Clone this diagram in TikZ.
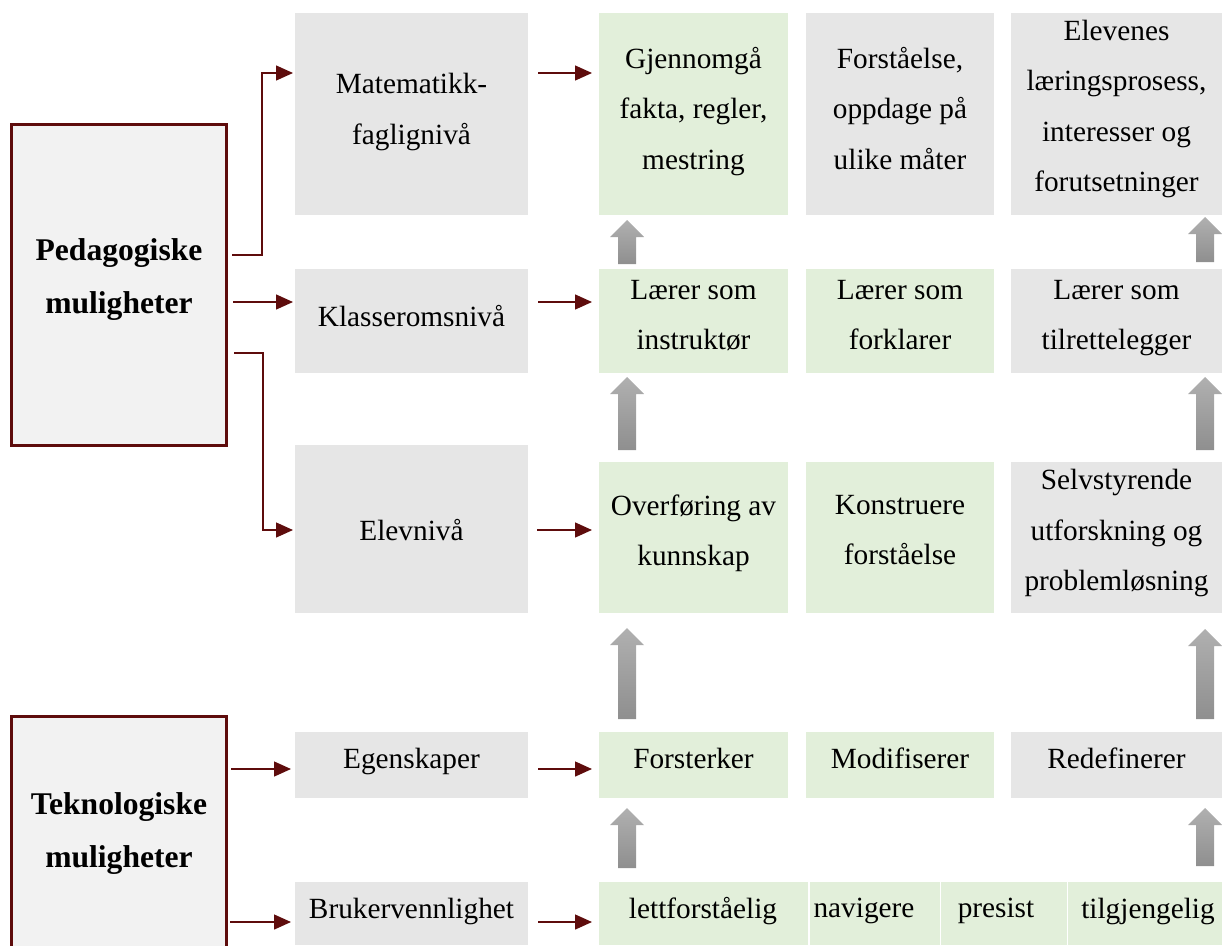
\documentclass[tikz,border=0pt]{standalone}
\usepackage{fontspec}
\setmainfont{Liberation Serif}
\usetikzlibrary{arrows.meta,calc}
\definecolor{dred}{RGB}{94,12,12}
\definecolor{boxgray}{RGB}{230,230,230}
\definecolor{boxgreen}{RGB}{226,239,218}
\definecolor{lgray}{RGB}{242,242,242}
\newcommand\blkup[3]{\shade[top color=gray!62,middle color=gray!18,bottom color=gray!88]
  (#1-9,#3) -- (#1-9,#2+17) -- (#1-17,#2+17) -- (#1,#2) -- (#1+17,#2+17) -- (#1+9,#2+17) -- (#1+9,#3) -- cycle;}
\begin{document}
\begin{tikzpicture}[x=1pt,y=-1pt,
  box/.style={draw=none,inner sep=0pt,outer sep=0pt,anchor=north west},
  gbox/.style={box,fill=boxgray},
  ebox/.style={box,fill=boxgreen},
  mainbox/.style={box,draw=dred,line width=3pt,fill=lgray},
  txt/.style={font=\fontsize{29.3}{50.5}\selectfont,align=center,text depth=0pt,inner sep=0pt},
  btxt/.style={font=\bfseries\fontsize{31.6}{53.5}\selectfont,align=center,text depth=0pt,inner sep=0pt},
  conn/.style={draw=dred,line width=1.4pt,-{Triangle[length=17pt,width=15pt]}}]
\useasboundingbox (0,0) rectangle (1222,945);
% main boxes
\node[mainbox,minimum width=215pt,minimum height=321pt] (ped) at (11.5,124.5) {};
\node[mainbox,minimum width=215pt,minimum height=240pt] (tek) at (11.5,716.5) {};
% column 1
\node[gbox,minimum width=233pt,minimum height=202pt] (m1) at (295,13) {};
\node[gbox,minimum width=233pt,minimum height=104pt] (m2) at (295,269) {};
\node[gbox,minimum width=233pt,minimum height=168pt] (m3) at (295,445) {};
\node[gbox,minimum width=233pt,minimum height=66pt] (m4) at (295,732) {};
\node[gbox,minimum width=233pt,minimum height=63pt] (m5) at (295,882) {};
% row 1
\node[ebox,minimum width=189pt,minimum height=202pt] (g1) at (599,13) {};
\node[gbox,minimum width=188pt,minimum height=202pt] (h1) at (806,13) {};
\node[gbox,minimum width=211pt,minimum height=202pt] (k1) at (1011,13) {};
% row 2
\node[ebox,minimum width=189pt,minimum height=104pt] (g2) at (599,269) {};
\node[ebox,minimum width=188pt,minimum height=104pt] (h2) at (806,269) {};
\node[gbox,minimum width=211pt,minimum height=104pt] (k2) at (1011,269) {};
% row 3
\node[ebox,minimum width=189pt,minimum height=151pt] (g3) at (599,462) {};
\node[ebox,minimum width=188pt,minimum height=151pt] (h3) at (806,462) {};
\node[gbox,minimum width=211pt,minimum height=151pt] (k3) at (1011,462) {};
% row 4
\node[ebox,minimum width=189pt,minimum height=66pt] (g4) at (599,732) {};
\node[ebox,minimum width=188pt,minimum height=66pt] (h4) at (806,732) {};
\node[gbox,minimum width=211pt,minimum height=66pt] (k4) at (1011,732) {};
% row 5
\node[ebox,minimum width=209pt,minimum height=63pt] (p1) at (599,882) {};
\node[ebox,minimum width=130pt,minimum height=63pt] (p2) at (810,882) {};
\node[ebox,minimum width=126pt,minimum height=63pt] (p3) at (941,882) {};
\node[ebox,minimum width=155pt,minimum height=63pt] (p4) at (1068,882) {};
% texts
\node[btxt] (tped) at (119,276) {Pedagogiske\\muligheter};
\node[btxt] (ttek) at (119,830) {Teknologiske\\muligheter};
\node[txt] (t11) at (411.5,109) {Matematikk-\\faglignivå};
\node[txt] (t12) at (693.5,108) {Gjennomgå\\fakta, regler,\\mestring};
\node[txt] (t13) at (900,108) {Forståelse,\\oppdage på\\ulike måter};
\node[txt] (t14) at (1116.5,106) {Elevenes\\læringsprosess,\\interesser og\\forutsetninger};
\node[txt] (t21) at (411.5,316) {Klasseromsnivå};
\node[txt] (t22) at (693.5,315) {Lærer som\\instruktør};
\node[txt] (t23) at (900,315) {Lærer som\\forklarer};
\node[txt] (t24) at (1116.5,315) {Lærer som\\tilrettelegger};
\node[txt] (t31) at (411.5,530) {Elevnivå};
\node[txt] (t32) at (693.5,530) {Overføring av\\kunnskap};
\node[txt] (t33) at (900,530) {Konstruere\\forståelse};
\node[txt] (t34) at (1116.5,530) {Selvstyrende\\utforskning og\\problemløsning};
\node[txt] (t41) at (411.5,758) {Egenskaper};
\node[txt] (t42) at (693.5,758) {Forsterker};
\node[txt] (t43) at (900,758) {Modifiserer};
\node[txt] (t44) at (1116.5,758) {Redefinerer};
\node[txt] (t51) at (411.5,908) {Brukervennlighet};
\node[txt] (t52) at (703,908) {lettforståelig};
\node[txt] (t53) at (864,908) {navigere};
\node[txt] (t54) at (996,908) {presist};
\node[txt] (t55) at (1148,908) {tilgjengelig};
% connectors from main boxes
\draw[conn] ($(ped.north east)+(5.5,130.5)$) -- ++(30,0) |- ($(m1.north west)+(-2,60)$);
\draw[conn] ($(ped.north east)+(6.5,177.5)$) -- ($(m2.north west)+(-2,33)$);
\draw[conn] ($(ped.north east)+(7.5,228.5)$) -- ++(29,0) |- ($(m3.north west)+(-2,85)$);
\draw[conn] ($(tek.north east)+(4.5,52.5)$) -- ($(m4.north west)+(-4,37)$);
\draw[conn] ($(tek.north east)+(3.5,205.5)$) -- ($(m5.north west)+(-4,40)$);
% connectors column 1 -> column 2
\draw[conn] ($(m1.north east)+(10,60)$) -- ($(g1.north west)+(-7,60)$);
\draw[conn] ($(m2.north east)+(10,33)$) -- ($(g2.north west)+(-7,33)$);
\draw[conn] ($(m3.north east)+(9,85)$) -- ($(g3.north west)+(-7,68)$);
\draw[conn] ($(m4.north east)+(10,37)$) -- ($(g4.north west)+(-7,37)$);
\draw[conn] ($(m5.north east)+(10,40)$) -- ($(p1.north west)+(-7,40)$);
% block arrows
\blkup{627}{220}{264}
\blkup{627}{377}{450}
\blkup{627}{628}{719}
\blkup{627}{808}{868}
\blkup{1205}{217}{262}
\blkup{1205}{377}{450}
\blkup{1205}{629}{719}
\blkup{1205}{808}{866}
\end{tikzpicture}
\end{document}
